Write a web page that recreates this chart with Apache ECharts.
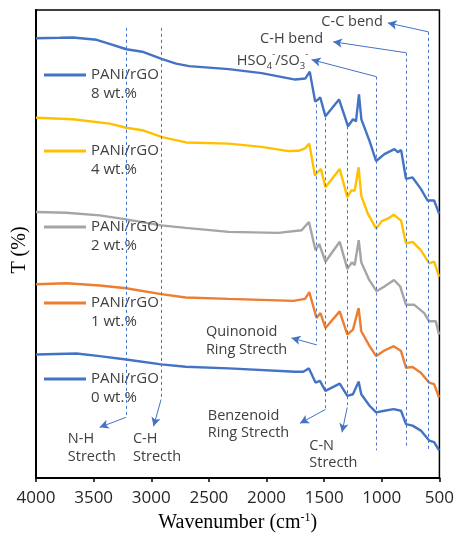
<!DOCTYPE html>
<html>
<head>
<meta charset="utf-8">
<script src="https://cdn.jsdelivr.net/npm/echarts@6/dist/echarts.min.js"></script>
<style>
  html, body { margin: 0; padding: 0; background: #fff; }
  #chart { width: 457px; height: 538px; }
</style>
</head>
<body>
<div id="chart"></div>
<script>
// FTIR transmittance spectra of PANi/rGO composites (curves offset vertically, arbitrary T units)
const seriesLabel = 'PANi/rGO';
const loadings = ['8 wt.%', '4 wt.%', '2 wt.%', '1 wt.%', '0 wt.%'];
const colors = ['#4472C4', '#FFC000', '#A5A5A5', '#ED7D31', '#4472C4'];

const wn8 = [4000, 3793, 3681, 3474, 3362, 3216, 3078, 2905, 2784, 2672, 2500, 2328, 2043, 1750, 1664, 1625, 1578, 1552, 1534, 1489, 1371, 1293, 1250, 1224, 1198, 1177, 1106, 1049, 977, 890, 862, 832, 790, 733, 661, 603, 546, 503];
const t8  = [442.5, 443, 443.3, 441, 437, 431.5, 429, 421.5, 417, 414.5, 413, 411.5, 407.5, 401, 402, 409, 379, 381, 383, 364, 381, 354, 361, 359, 386, 361, 339, 319, 326, 331, 328, 330, 301, 302.5, 291, 279.3, 279.3, 266];

const wn4 = [4000, 3681, 3362, 3216, 3078, 2905, 2698, 2328, 2043, 1810, 1724, 1666, 1629, 1580, 1558, 1528, 1489, 1365, 1299, 1265, 1235, 1201, 1178, 1121, 1049, 1000, 948, 897, 853, 833, 790, 733, 661, 589, 546, 503];
const t4  = [362.5, 361, 356.7, 352.5, 350, 343, 337.7, 336.5, 333.3, 329, 329.3, 331.7, 336.5, 304.3, 307.7, 311, 292.7, 311, 282.7, 289.3, 289.3, 312.7, 284, 266, 251, 258.5, 261, 265, 261, 259.3, 236, 237.7, 229.3, 216, 217.7, 202.7];

const wn2 = [4000, 3735, 3448, 3218, 2914, 2701, 2328, 1897, 1696, 1632, 1575, 1543, 1489, 1365, 1299, 1259, 1235, 1200, 1178, 1112, 1046, 977, 894, 840, 790, 718, 632, 589, 532, 503];
const t2  = [267.7, 267, 264.3, 260.3, 254.3, 251.7, 247.7, 246.7, 249.3, 257.7, 229.3, 235.5, 217.7, 237.7, 210.5, 217, 214.3, 239.3, 217, 200, 188, 192.7, 199.3, 192.7, 174.3, 174.3, 166, 157.7, 157.7, 144.3];

const wn1 = [4000, 3735, 3448, 3218, 2914, 2701, 2328, 1767, 1666, 1629, 1566, 1532, 1489, 1365, 1299, 1250, 1201, 1178, 1106, 1049, 977, 897, 833, 790, 733, 661, 589, 546, 503];
const t1  = [195, 196, 193.7, 191, 185, 181.7, 180.3, 178.3, 180.3, 187, 161, 166, 151, 167.7, 144.3, 149.3, 171, 147.7, 132.7, 122.7, 128.3, 132.7, 127.7, 111, 111.7, 106, 96, 94.5, 81];

const wn0 = [4000, 3649, 3448, 3218, 2914, 2701, 2328, 1750, 1681, 1632, 1575, 1537, 1489, 1365, 1299, 1250, 1201, 1178, 1106, 1049, 977, 897, 833, 790, 733, 661, 589, 546, 503];
const t0  = [124.3, 125.3, 122.7, 119.3, 114.3, 112, 110.3, 107, 107, 110.3, 96, 97.7, 87.7, 95, 82.7, 84.3, 97, 84.3, 72.7, 66, 67.7, 69.3, 67.7, 54.3, 52.7, 47.7, 37.7, 36, 27.7];

const spectraWn = [wn8, wn4, wn2, wn1, wn0];
const spectraT  = [t8, t4, t2, t1, t0];

const xTicks = [4000, 3500, 3000, 2500, 2000, 1500, 1000, 500];
const tRange = [0, 471];

// band assignments: vertical guide at a wavenumber, spanning T from..to
const guides = [
  [3220, 453, 61], [2915, 453, 79],
  [1566, 376, 134], [1489, 363, 69], [1300, 354, 71],
  [1050, 404, 28], [790, 428, 31], [595, 449, 28]
];
// leader arrows: [from wn, from T, to wn, to T]
const leaders = [
  [3220, 61, 3448, 51], [2915, 79, 2980, 52],
  [1566, 134, 1784, 141], [1489, 69, 1710, 55], [1300, 71, 1345, 46],
  [1050, 404, 1609, 421], [790, 428, 1422, 439], [595, 449, 948, 458]
];
// band labels: [wn, T (first line centre), text, align]
const notes = [
  [3724, 39.3, 'N-H\nStrecth', 'left'],
  [3159, 39.3, 'C-H\nStrecth', 'left'],
  [2526, 147, 'Quinonoid\nRing Strecth', 'left'],
  [2509, 63, 'Benzenoid\nRing Strecth', 'left'],
  [1629, 32.7, 'C-N\nStrecth', 'left'],
  [1638, 420, '{n|HSO}{sub|4}{sup|-}{n|/SO}{sub|3}{sup|-}', 'right'],
  [1509, 441.7, 'C-H bend', 'right'],
  [991, 459.3, 'C-C bend', 'right']
];

const names = loadings.map(l => seriesLabel + ' ' + l);
const textColor = '#404040';
const accent = '#4472C4';

const spectra = names.map((name, i) => ({
  name,
  type: 'line',
  data: spectraWn[i].map((w, k) => [w, spectraT[i][k]]),
  showSymbol: false,
  symbol: 'none',
  smooth: false,
  lineStyle: { color: colors[i], width: 2.4 },
  itemStyle: { color: colors[i] },
  z: 3
}));

const guideSeries = {
  name: 'guides',
  type: 'line',
  data: [],
  silent: true,
  markLine: {
    silent: true,
    animation: false,
    symbol: ['none', 'none'],
    label: { show: false },
    lineStyle: { color: accent, width: 1, type: [3, 3] },
    emphasis: { disabled: true },
    data: guides.map(g => [{ coord: [g[0], g[1]] }, { coord: [g[0], g[2]] }])
  },
  z: 2
};

const leaderSeries = {
  name: 'leaders',
  type: 'line',
  data: [],
  silent: true,
  markLine: {
    silent: true,
    animation: false,
    symbol: ['none', 'arrow'],
    symbolSize: [7, 9],
    label: { show: false },
    lineStyle: { color: accent, width: 1, type: 'solid' },
    emphasis: { disabled: true },
    data: leaders.map(a => [{ coord: [a[0], a[1]] }, { coord: [a[2], a[3]] }])
  },
  z: 2
};

const chart = echarts.init(document.getElementById('chart'), null, { renderer: 'canvas' });

const option = {
  animation: false,
  backgroundColor: '#fff',
  grid: {
    left: 36, right: 15, top: 10, bottom: 57,
    show: true, borderColor: '#000', borderWidth: 1.5, backgroundColor: 'transparent'
  },
  legend: {
    data: names,
    orient: 'vertical',
    left: 44,
    top: 46.5,
    padding: 0,
    itemGap: 19,
    itemWidth: 42,
    itemHeight: 3,
    icon: 'rect',
    selectedMode: false,
    formatter: n => '\n' + n.replace(' ', '\n'),
    textStyle: { fontFamily: 'Open Sans', fontSize: 15, color: textColor, lineHeight: 19 }
  },
  xAxis: {
    type: 'value',
    inverse: true,
    min: Math.min(...xTicks),
    max: Math.max(...xTicks),
    interval: xTicks[0] - xTicks[1],
    name: '{n|Wavenumber (cm}{sup|-1}{n|)}',
    nameLocation: 'middle',
    nameGap: 34,
    nameTextStyle: {
      rich: {
        n: { fontFamily: 'Liberation Serif', fontSize: 20, color: '#000', lineHeight: 22 },
        sup: { fontFamily: 'Liberation Serif', fontSize: 12, color: '#000', verticalAlign: 'top', lineHeight: 12 }
      }
    },
    axisLine: { show: true, lineStyle: { color: '#000', width: 2 } },
    axisTick: { show: true, inside: false, length: 4, lineStyle: { color: '#000', width: 1.5 } },
    axisLabel: {
      margin: 12, fontFamily: 'Open Sans', fontSize: 17, color: '#262626',
      formatter: v => String(v)
    },
    splitLine: { show: false }
  },
  yAxis: {
    type: 'value',
    min: tRange[0],
    max: tRange[1],
    name: 'T (%)',
    nameLocation: 'middle',
    nameGap: 6,
    nameTextStyle: { fontFamily: 'Liberation Serif', fontSize: 20, color: '#000', padding: [0, 12, 0, 0] },
    axisLine: { show: true, lineStyle: { color: '#000', width: 2 } },
    axisTick: { show: false },
    axisLabel: { show: false },
    splitLine: { show: false }
  },
  series: [guideSeries, leaderSeries].concat(spectra)
};

chart.setOption(option);

// band labels placed through the axis scales
const noteLine = 17.5;
const graphics = notes.map(([w, t, text, align]) => {
  const p = chart.convertToPixel({ gridIndex: 0 }, [w, t]);
  const multi = text.indexOf('\n') >= 0;
  return {
    type: 'text',
    silent: true,
    z: 10,
    style: {
      text,
      x: p[0],
      y: multi ? p[1] - noteLine / 2 : p[1],
      align,
      textAlign: align,
      verticalAlign: multi ? 'top' : 'middle',
      textVerticalAlign: multi ? 'top' : 'middle',
      fontFamily: 'Open Sans',
      fontSize: 14.5,
      lineHeight: noteLine,
      fill: textColor,
      rich: {
        n: { fontFamily: 'Open Sans', fontSize: 14.5, fill: textColor, color: textColor, lineHeight: 22 },
        sub: { fontFamily: 'Open Sans', fontSize: 9.5, fill: textColor, color: textColor, verticalAlign: 'bottom', lineHeight: 12 },
        sup: { fontFamily: 'Open Sans', fontSize: 9.5, fill: textColor, color: textColor, verticalAlign: 'top', lineHeight: 12 }
      }
    }
  };
});
chart.setOption({ graphic: graphics });
</script>
</body>
</html>
